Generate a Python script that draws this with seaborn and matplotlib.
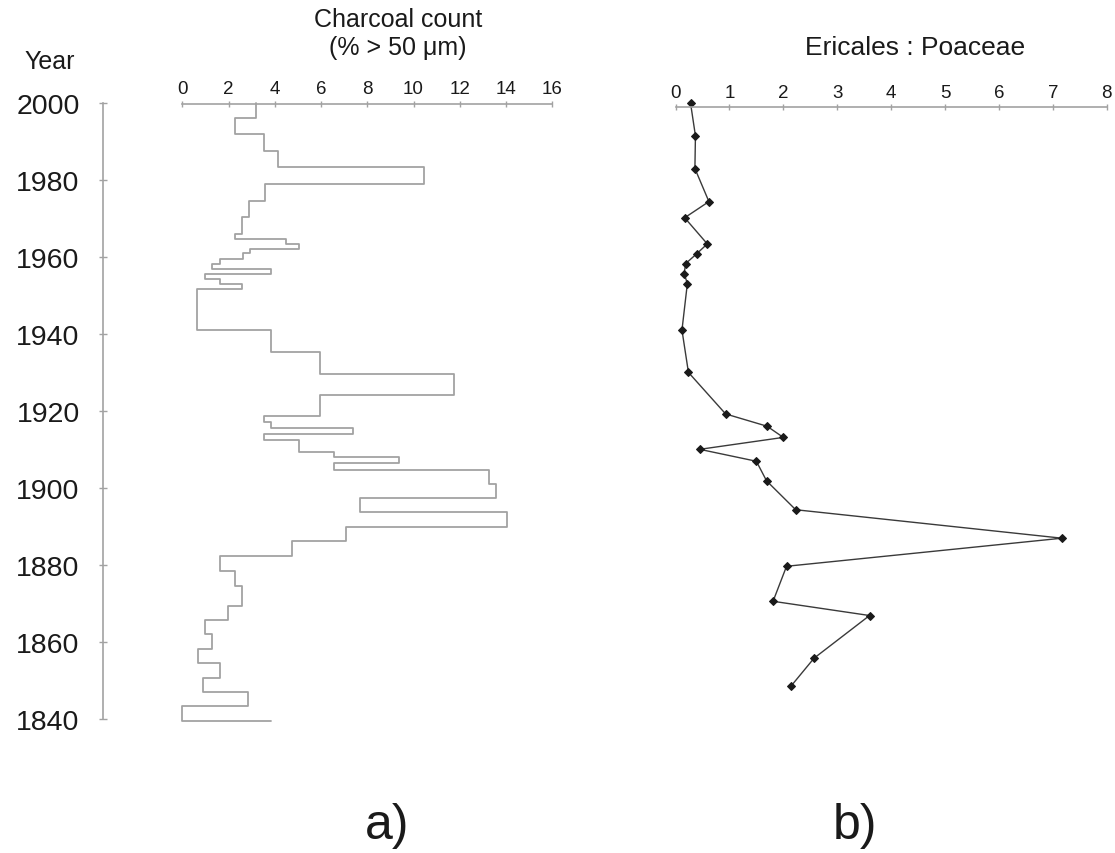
# Charcoal record and Ericales:Poaceae ratio against year

import matplotlib
matplotlib.use("Agg")
import pandas as pd
import matplotlib.pyplot as plt
import seaborn as sns

# ---------------------------
# Data
# ---------------------------

# charcoal: year boundaries of each sample and the value inside each interval
charcoal_bounds = [2000, 1996.3, 1992.0, 1987.7, 1983.4, 1979.0, 1974.7, 1970.6,
                   1966.1, 1964.8, 1963.6, 1962.2, 1961.2, 1959.6, 1958.4, 1957.1,
                   1955.8, 1954.5, 1953.2, 1951.9, 1941.0, 1935.3, 1929.7, 1924.2,
                   1918.8, 1917.1, 1915.6, 1914.1, 1912.4, 1909.5, 1908.0, 1906.5,
                   1904.8, 1901.1, 1897.4, 1893.7, 1889.9, 1886.2, 1882.3, 1878.6,
                   1874.7, 1869.5, 1865.8, 1862.1, 1858.3, 1854.5, 1850.6, 1847.0,
                   1843.3, 1839.4]
charcoal_values = [3.2, 2.28, 3.55, 4.15, 10.45, 3.58, 2.9, 2.6, 2.29, 4.47,
                   5.06, 2.93, 2.61, 1.63, 1.3, 3.84, 1.0, 1.63, 2.6, 0.65,
                   3.84, 5.95, 11.75, 5.95, 3.55, 3.84, 7.38, 3.55, 5.06, 6.55,
                   9.36, 6.55, 13.28, 13.55, 7.68, 14.03, 7.1, 4.76, 1.63, 2.29,
                   2.6, 1.96, 0.98, 1.3, 0.66, 1.63, 0.91, 2.86, 0.0]
charcoal_tail = 3.82  # last horizontal line at the bottom

# Ericales : Poaceae samples
ratio_years = [2000.0, 1991.6, 1983.1, 1974.5, 1970.3, 1963.5, 1960.9, 1958.4,
               1955.8, 1953.2, 1941.1, 1930.1, 1919.3, 1916.1, 1913.2, 1910.1,
               1907.0, 1901.9, 1894.4, 1887.0, 1879.7, 1870.6, 1866.9, 1855.8,
               1848.5]
ratio_values = [0.28, 0.37, 0.36, 0.62, 0.17, 0.59, 0.39, 0.19, 0.16, 0.22,
                0.12, 0.24, 0.93, 1.70, 2.0, 0.45, 1.50, 1.69, 2.23, 7.17,
                2.06, 1.81, 3.60, 2.57, 2.14]

year_ticks = [1840, 1860, 1880, 1900, 1920, 1940, 1960, 1980, 2000]
charcoal_ticks = [0, 2, 4, 6, 8, 10, 12, 14, 16]
ratio_ticks = [0, 1, 2, 3, 4, 5, 6, 7, 8]

GREY = "#a2a2a2"
DARK = "#1a1a1a"

# ---------------------------
# Figure
# ---------------------------

sns.set_theme(style="white")
plt.rcParams["font.family"] = ["Liberation Sans", "DejaVu Sans"]

W, H = 1115, 854
fig = plt.figure(figsize=(W / 100, H / 100), dpi=100)


def box(x0, x1, ytop, ybot):
    # pixel box -> figure fraction
    return [x0 / W, 1 - ybot / H, (x1 - x0) / W, (ybot - ytop) / H]


ax1 = fig.add_axes(box(182.3, 552.3, 104.5, 720))
ax2 = fig.add_axes(box(675.5, 1106.7, 104.5, 720))

# step line for charcoal (vertical runs at each value, joined at the boundaries)
char_df = pd.DataFrame({
    "value": [charcoal_values[0]] + charcoal_values + [charcoal_tail],
    "year": charcoal_bounds + [charcoal_bounds[-1]],
})
sns.lineplot(data=char_df, x="value", y="year", sort=False, estimator=None,
             orient="y", drawstyle="steps-post", color=GREY, lw=1.3,
             ax=ax1, clip_on=False)

ratio_df = pd.DataFrame({"value": ratio_values, "year": ratio_years})
sns.lineplot(data=ratio_df, x="value", y="year", sort=False, estimator=None,
             orient="y", color="#3a3a3a", lw=1.0, marker="D", markersize=4,
             markerfacecolor=DARK, markeredgecolor=DARK, ax=ax2, clip_on=False)

# left panel axes
ax1.set_xlim(0, 16)
ax1.set_ylim(1840, 2000)
ax1.xaxis.tick_top()
ax1.set_xticks(charcoal_ticks)
ax1.set_yticks(year_ticks)
for s in ["right", "bottom"]:
    ax1.spines[s].set_visible(False)
ax1.spines["top"].set_color(GREY)
ax1.spines["top"].set_linewidth(1.2)
ax1.spines["left"].set_color(GREY)
ax1.spines["left"].set_linewidth(1.2)
ax1.spines["left"].set_position(("outward", 79 * 0.72))
ax1.tick_params(axis="x", top=True, bottom=False, direction="inout", length=5,
                width=1, color=GREY, labelsize=13.5, labelcolor=DARK, pad=2.5)
ax1.tick_params(axis="y", left=True, direction="inout", length=6, width=1,
                color=GREY, labelsize=20.5, labelcolor=DARK, pad=14)
ax1.set_xlabel("")
ax1.set_ylabel("")

# right panel axes
ax2.set_xlim(0, 8)
ax2.set_ylim(1840, 2000)
ax2.xaxis.tick_top()
ax2.set_xticks(ratio_ticks)
ax2.set_yticks([])
for s in ["left", "right", "bottom"]:
    ax2.spines[s].set_visible(False)
ax2.spines["top"].set_position(("data", 1999.1))
ax2.spines["top"].set_color(GREY)
ax2.spines["top"].set_linewidth(1.2)
ax2.tick_params(axis="x", top=True, bottom=False, direction="inout", length=5,
                width=1, color=GREY, labelsize=13.5, labelcolor=DARK, pad=2)
ax2.set_xlabel("")
ax2.set_ylabel("")

# titles and panel letters
fig.text(50 / W, 1 - 62 / H, "Year", ha="center", va="center", fontsize=18, color=DARK)
fig.text(398 / W, 1 - 34 / H, "Charcoal count\n(% > 50 μm)", ha="center", va="center",
         fontsize=18, color=DARK, linespacing=1.25)
fig.text(915 / W, 1 - 48 / H, "Ericales : Poaceae", ha="center", va="center",
         fontsize=19, color=DARK)
fig.text(387 / W, 1 - 826 / H, "a)", ha="center", va="center", fontsize=36, color=DARK)
fig.text(855 / W, 1 - 826 / H, "b)", ha="center", va="center", fontsize=36, color=DARK)

fig.savefig("out.png", dpi=100)
